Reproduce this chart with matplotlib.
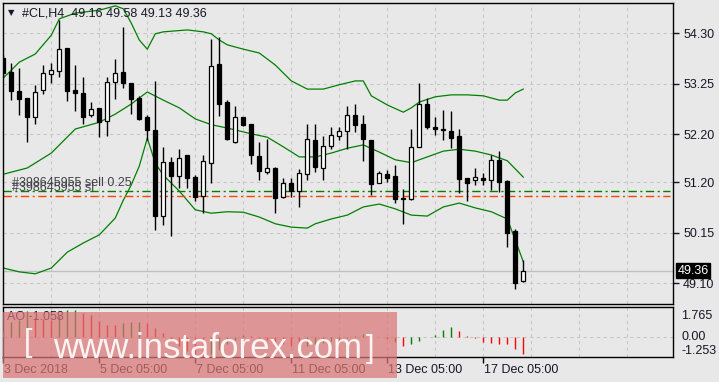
import matplotlib
matplotlib.use("Agg")
import matplotlib.pyplot as plt
from matplotlib.patches import Rectangle
from matplotlib.transforms import blended_transform_factory
import numpy as np

plt.rcParams['font.family'] = ['Liberation Sans', 'DejaVu Sans']

# #CL H4 candles, bar 0 = 3 Dec 2018
opens = [53.78, 53.50, 53.09, 52.95, 52.57, 53.13, 53.45, 53.52, 53.99, 53.12,
         53.05, 52.60, 52.74, 52.48, 53.29, 53.49, 53.26, 52.95, 52.55, 52.29,
         50.51, 51.62, 51.34, 51.77, 51.32, 50.92, 51.61, 53.66, 52.87, 52.03,
         52.55, 52.41, 51.75, 51.42, 51.50, 50.89, 51.18, 51.03, 51.38, 52.08,
         51.49, 51.95, 52.17, 52.26, 52.60, 52.41, 52.08, 51.18, 51.37, 51.33,
         50.88, 50.85, 51.94, 52.83, 52.35, 52.31, 52.27, 52.16, 51.29, 51.24,
         51.30, 51.26, 51.67, 51.23, 50.19, 49.16]
highs = [53.85, 53.68, 53.57, 52.96, 53.23, 53.64, 53.68, 54.58, 54.00, 53.64,
         53.40, 52.87, 52.75, 53.39, 53.76, 54.43, 53.27, 53.00, 52.60, 53.31,
         51.94, 51.72, 51.89, 51.78, 51.35, 51.77, 54.18, 54.23, 52.91, 52.79,
         52.56, 52.42, 52.03, 52.10, 51.53, 51.29, 51.29, 51.47, 52.41, 52.41,
         52.16, 52.35, 52.35, 52.79, 52.84, 52.60, 52.09, 51.44, 51.46, 51.56,
         51.06, 52.32, 53.26, 52.95, 52.55, 52.71, 52.68, 52.32, 51.30, 51.49,
         51.39, 51.76, 51.85, 51.24, 50.23, 49.58]
lows = [53.40, 52.91, 52.60, 52.05, 52.41, 53.04, 53.27, 53.40, 52.90, 52.69,
        52.41, 52.55, 52.15, 52.17, 52.93, 53.16, 52.62, 52.49, 52.08, 50.21,
        50.31, 50.09, 51.08, 51.09, 50.81, 50.57, 51.19, 52.58, 52.08, 52.02,
        52.37, 51.58, 51.26, 51.37, 50.57, 50.88, 50.89, 50.69, 51.26, 51.42,
        51.24, 51.89, 52.08, 51.90, 52.25, 51.65, 50.94, 51.18, 51.21, 50.78,
        50.33, 50.84, 51.93, 52.30, 52.19, 52.08, 51.92, 50.99, 50.82, 51.14,
        51.15, 51.04, 51.01, 49.86, 48.99, 49.13]
closes = [53.47, 53.09, 52.93, 52.57, 53.07, 53.47, 53.54, 53.97, 53.09, 53.05,
          52.57, 52.72, 52.46, 53.28, 53.47, 53.26, 52.93, 52.51, 52.28, 50.51,
          51.62, 51.34, 51.70, 51.30, 50.90, 51.64, 53.63, 52.84, 52.10, 52.55,
          52.40, 51.76, 51.44, 51.49, 50.87, 51.18, 51.03, 51.39, 52.10, 51.51,
          51.96, 52.18, 52.27, 52.60, 52.39, 52.10, 51.17, 51.39, 51.30, 50.86,
          50.85, 51.93, 52.84, 52.36, 52.30, 52.28, 52.13, 51.28, 51.19, 51.31,
          51.26, 51.67, 51.21, 50.15, 49.11, 49.36]

# Bollinger bands (bar index, price)
upper_x = [0, 2, 4, 6, 7, 9, 12, 14, 15, 16, 17, 18, 19, 20, 23, 25, 26, 27, 28, 30,
           32, 34, 36, 38, 40, 42, 44, 45, 46, 48, 50, 51, 52, 54, 56, 58, 60, 62, 63, 64, 65]
upper = [53.37, 53.70, 53.87, 54.26, 54.60, 54.72, 54.78, 54.87, 54.81, 54.51, 54.16,
         53.97, 54.29, 54.33, 54.37, 54.33, 54.29, 54.16, 54.06, 53.97, 53.89, 53.64,
         53.31, 53.14, 53.14, 53.23, 53.31, 53.31, 53.00, 52.81, 52.66, 52.75, 52.87,
         52.98, 53.02, 53.02, 53.00, 52.91, 52.91, 53.06, 53.14]
mid_x = [0, 3, 6, 9, 12, 14, 16, 18, 20, 22, 24, 26, 28, 31, 33, 35, 37, 39, 41, 43,
         45, 47, 49, 51, 53, 55, 57, 59, 61, 63, 64, 65]
mid = [51.37, 51.50, 51.81, 52.31, 52.45, 52.62, 52.83, 53.08, 52.91, 52.75, 52.52,
       52.40, 52.33, 52.21, 52.14, 51.94, 51.73, 51.73, 51.81, 51.91, 51.98, 51.83,
       51.67, 51.61, 51.73, 51.85, 51.89, 51.85, 51.77, 51.65, 51.48, 51.31]
lower_x = [0, 2, 4, 6, 8, 10, 12, 14, 15, 16, 17, 18, 19, 20, 22, 24, 26, 28, 30, 32,
           34, 36, 38, 39, 41, 43, 45, 47, 49, 51, 53, 55, 57, 59, 61, 63, 64, 65]
lower = [49.42, 49.34, 49.30, 49.42, 49.75, 49.94, 50.11, 50.46, 50.83, 51.15, 51.54,
         52.12, 51.60, 51.35, 51.02, 50.63, 50.56, 50.59, 50.58, 50.48, 50.34, 50.27,
         50.25, 50.34, 50.44, 50.52, 50.69, 50.75, 50.65, 50.52, 50.50, 50.69, 50.77,
         50.67, 50.59, 50.44, 50.00, 49.55]

# Awesome Oscillator
ao_vals = [0.33, 1.00, 1.10, 1.72, 1.25, 1.22, 1.15, 1.37, 1.75, 1.765,
           1.59, 1.42, 1.04, 0.82, 0.80, 0.93, 0.97, 0.99, 0.93, 0.60,
           0.25, -0.15, -0.55, -0.90, -1.15, -1.253, -1.10, -0.80, -0.45, -0.15,
           0.15, 0.10, -0.05, -0.15, -0.30, -0.45, -0.55, -0.60, -0.55, -0.45,
           -0.35, -0.25, -0.15, -0.05, 0.08, 0.20, 0.10, 0.02, -0.08, -0.29,
           -0.55, -0.46, -0.22, 0.05, 0.15, 0.49, 0.64, 0.44, 0.11, -0.07,
           -0.29, -0.40, -0.44, -0.46, -0.73, -1.058]

price_ticks = [54.30, 53.25, 52.20, 51.20, 50.15, 49.10]
last_price = 49.36
order_price = 51.03
sl_price = 50.92
date_pos = [0, 12, 24, 36, 48, 60]
date_labels = ["3 Dec 2018", "5 Dec 05:00", "7 Dec 05:00", "11 Dec 05:00",
               "13 Dec 05:00", "17 Dec 05:00"]

BG = '#e8e8e8'
GRID = '#c8c8c8'
TXT = '#161626'
W, H = 719, 382

fig = plt.figure(figsize=(W / 100, H / 100), dpi=100, facecolor=BG)
ax = fig.add_axes([2.7 / W, 1 - 304 / H, 670.6 / W, 301.3 / H], facecolor=BG)
ax2 = fig.add_axes([2.7 / W, 1 - 357.3 / H, 670.6 / W, 50.6 / H], facecolor=BG)

o = np.array(opens); c = np.array(closes)
hi = np.array(highs); lo = np.array(lows)
x = np.arange(len(o))
xlim = (-0.075, 83.75)
grid_x = np.arange(6, 84, 6)

# grid
for g in grid_x:
    ax.axvline(g, color=GRID, lw=0.8, ls=(0, (3, 3)), zorder=0)
    ax2.axvline(g, color=GRID, lw=0.8, ls=(0, (3, 3)), zorder=0)
for p in price_ticks:
    ax.axhline(p, color=GRID, lw=0.8, ls=(0, (3, 3)), zorder=0)
ax2.axhline(0, color=GRID, lw=0.8, ls=(0, (3, 3)), zorder=0)
ax.axhline(last_price, color='#c0c0c0', lw=1, zorder=1)

# candles
ax.vlines(x, lo, hi, color='black', lw=1, zorder=3)
up = c >= o
ax.bar(x[up], np.maximum(c - o, 0.02)[up], bottom=o[up], width=0.5,
       facecolor='white', edgecolor='black', lw=0.9, zorder=4)
ax.bar(x[~up], np.maximum(o - c, 0.02)[~up], bottom=c[~up], width=0.5,
       facecolor='black', edgecolor='black', lw=0.9, zorder=4)

# bands
for bx, by in ((upper_x, upper), (mid_x, mid), (lower_x, lower)):
    ax.plot(bx, by, color='#008000', lw=0.9, zorder=2)

# order lines
ax.plot([xlim[0], 83.3], [order_price] * 2, color='#008000', lw=1,
        ls=(0, (6, 2.5, 1.5, 2.5)), zorder=2)
ax.plot([xlim[0], 83.3], [sl_price] * 2, color='#ff4500', lw=1,
        ls=(0, (6, 2.5, 1.5, 2.5)), zorder=2)

ax.set_xlim(*xlim)
ax.set_ylim(48.672, 54.936)
ax.set_xticks([])
ax.yaxis.tick_right()
ax.set_yticks(price_ticks)
ax.set_yticklabels([f'{p:.2f}' for p in price_ticks])
ax.tick_params(axis='y', direction='out', length=4, pad=3, labelsize=9,
               colors=TXT, width=1)
for s in ax.spines.values():
    s.set_color('black'); s.set_linewidth(1)

tr = blended_transform_factory(ax.transAxes, ax.transData)
ax.text(1.006, last_price, f'{last_price:.2f}', transform=tr, color='white',
        fontsize=9, va='center', ha='left',
        bbox=dict(boxstyle='square,pad=0.12', fc='black', ec='black'))

# header and order labels
fig.text(8 / W, 1 - 12.5 / H, '▼', fontsize=6, color=TXT, va='center',
         family='DejaVu Sans')
fig.text(21.5 / W, 1 - 13 / H, '#CL,H4  49.16 49.58 49.13 49.36', fontsize=9,
         color=TXT, va='center')
fig.text(11.7 / W, 1 - 182.7 / H, '#398645955 sell 0.25', fontsize=9,
         color='#404048', va='center')
fig.text(11.7 / W, 1 - 187.7 / H, '#398645955 sl', fontsize=9,
         color='#404048', va='center')

# AO panel
ao = np.array(ao_vals)
ao_col = ['#008000' if i == 0 or ao[i] >= ao[i - 1] else '#ff0000'
          for i in range(len(ao))]
ax2.vlines(x, 0, ao, colors=ao_col, lw=1, zorder=3)
ax2.set_xlim(*xlim)
ax2.set_ylim(-1.30, 1.99)
ax2.set_yticks([])
ax2.set_xticks(date_pos)
ax2.tick_params(axis='x', direction='out', length=4, labelbottom=False, width=1)
for s in ax2.spines.values():
    s.set_color('black'); s.set_linewidth(1)
tr2 = blended_transform_factory(ax2.transAxes, ax2.transData)
ax2.text(1.012, 1.765, '1.765', transform=tr2, fontsize=9, color=TXT, va='top')
ax2.text(1.012, 0, '0.00', transform=tr2, fontsize=9, color=TXT, va='center')
ax2.text(1.012, -1.253, '-1.253', transform=tr2, fontsize=9, color=TXT, va='bottom')
ax2.text(0.0064, 0.80, 'AO -1.058', transform=ax2.transAxes, fontsize=9,
         color=TXT, va='center')

trd = blended_transform_factory(ax2.transData, ax2.transAxes)
for p, lab in zip(date_pos, date_labels):
    ax2.text(p + 0.15, -0.25, lab, transform=trd, fontsize=9, color=TXT,
             ha='left', va='center', clip_on=False)

# watermark
fig.add_artist(Rectangle((2.7 / W, 1 - 378.3 / H), 394.3 / W, 66.6 / H,
                         transform=fig.transFigure, facecolor=(0.86, 0.46, 0.46),
                         alpha=0.72, edgecolor='none', zorder=10))
fig.text(53 / W, 1 - 357.7 / H, 'www.instaforex.com', fontsize=25,
         color='white', alpha=0.9, va='baseline', zorder=11)
fig.text(24 / W, 1 - 343 / H, '[', fontsize=22, color='white', alpha=0.9,
         va='center', zorder=11)
fig.text(366 / W, 1 - 349 / H, ']', fontsize=22, color='white', alpha=0.9,
         va='center', zorder=11)

fig.savefig('out.png', dpi=100, facecolor=BG)
